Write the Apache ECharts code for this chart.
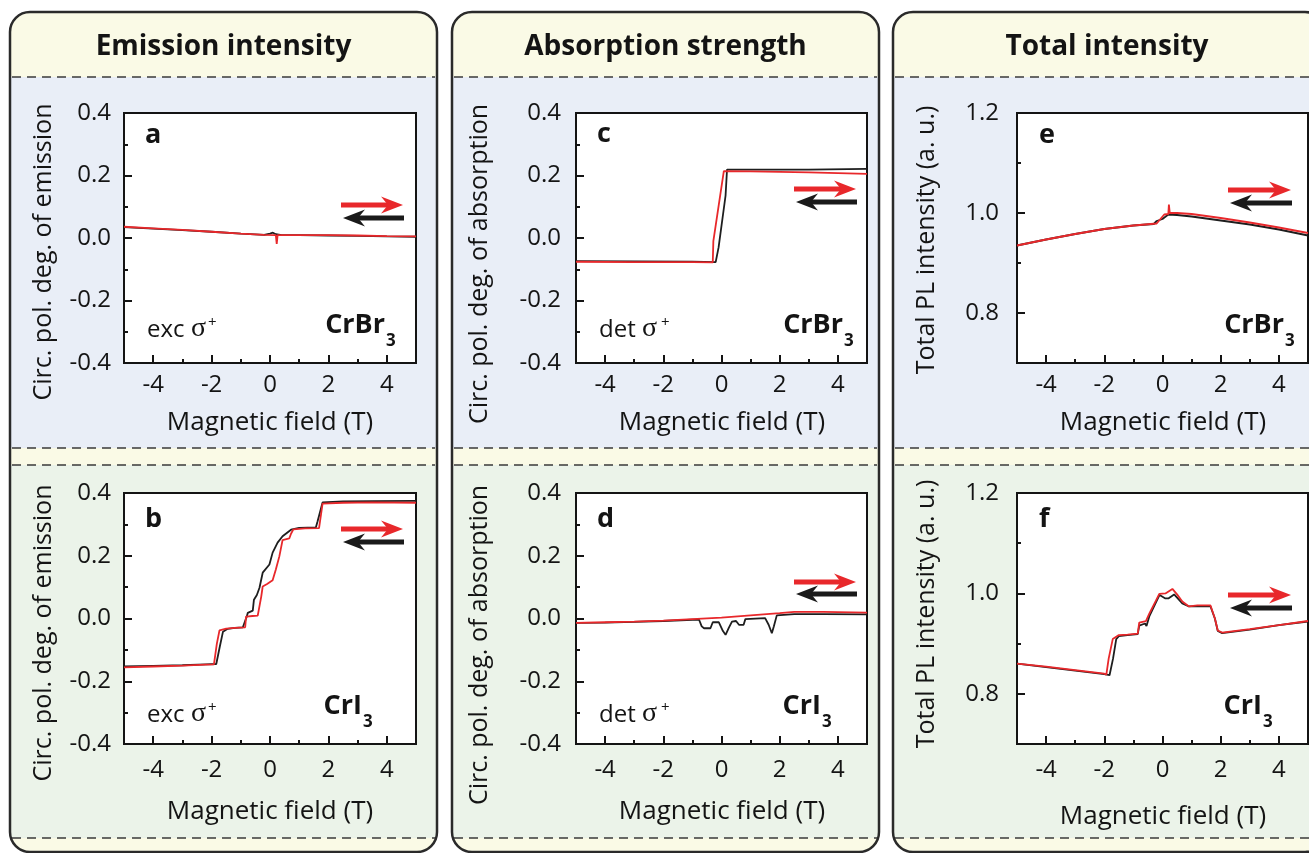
<!DOCTYPE html>
<html><head><meta charset="utf-8">
<script src="https://cdn.jsdelivr.net/npm/echarts@6/dist/echarts.min.js"></script>
<style>html,body{margin:0;padding:0;background:#fff;overflow:hidden}#c{width:1309px;height:853px}</style>
</head><body><div id="c"></div>
<script>
// ---- tick values / labels ----
const xMajor = [-4, -2, 0, 2, 4];
const xMinor = [-3, -1, 1, 3];
const polMajor = [-0.4, -0.2, 0, 0.2, 0.4];
const polMinor = [-0.3, -0.1, 0.1, 0.3];
const intMajor = [0.8, 1.0, 1.2];
const intMinor = [0.9, 1.1];
const columnTitles = ['Emission intensity', 'Absorption strength', 'Total intensity'];
const yTitles = ['Circ. pol. deg. of emission', 'Circ. pol. deg. of absorption', 'Total PL intensity (a. u.)'];
const xTitle = 'Magnetic field (T)';
const panelLetters = ['a', 'b', 'c', 'd', 'e', 'f'];
const materials = ['CrBr', 'CrI'];
const conditions = ['exc', 'det'];

// ---- data: [field (T), value]; black = sweep down, red = sweep up ----
const aBlack = [[-5,0.035],[-4,0.030],[-3,0.025],[-2,0.020],[-1,0.014],[-0.2,0.010],[0,0.014],[0.1,0.017],[0.2,0.012],[0.4,0.009],[1,0.009],[2,0.008],[3,0.007],[4,0.005],[5,0.004]];
const aRed = [[-5,0.036],[-4,0.031],[-3,0.026],[-2,0.020],[-1,0.014],[-0.2,0.010],[0.2,0.009],[0.23,-0.019],[0.26,0.009],[1,0.009],[2,0.009],[3,0.008],[4,0.006],[5,0.005]];

const bBlack = [[-5,-0.153],[-4,-0.151],[-3,-0.149],[-2.2,-0.146],[-1.84,-0.145],[-1.72,-0.09],[-1.61,-0.042],[-1.45,-0.033],[-1.2,-0.030],[-0.93,-0.028],[-0.89,-0.030],[-0.8,0.005],[-0.76,0.018],[-0.59,0.025],[-0.55,0.060],[-0.45,0.075],[-0.36,0.098],[-0.25,0.146],[-0.02,0.172],[0.09,0.210],[0.26,0.242],[0.43,0.262],[0.72,0.283],[1.0,0.289],[1.57,0.290],[1.63,0.310],[1.8,0.370],[2.5,0.373],[3.5,0.374],[5,0.375]];
const bRed = [[-5,-0.156],[-4,-0.153],[-3,-0.150],[-2.2,-0.147],[-1.92,-0.146],[-1.82,-0.08],[-1.73,-0.038],[-1.5,-0.032],[-1.2,-0.030],[-0.85,-0.028],[-0.82,0.006],[-0.6,0.008],[-0.42,0.009],[-0.3,0.070],[-0.25,0.102],[-0.1,0.110],[0.09,0.122],[0.2,0.156],[0.32,0.198],[0.43,0.250],[0.66,0.255],[0.72,0.270],[0.8,0.284],[1.2,0.287],[1.68,0.288],[1.8,0.366],[2.5,0.369],[3.5,0.370],[5,0.369]];

const cBlack = [[-5,-0.074],[-3,-0.075],[-1,-0.076],[-0.2,-0.077],[-0.1,-0.030],[0.14,0.136],[0.19,0.219],[1,0.219],[3,0.219],[5,0.221]];
const cRed = [[-5,-0.076],[-3,-0.077],[-1,-0.077],[-0.3,-0.078],[-0.28,-0.010],[0.08,0.214],[1,0.213],[3,0.210],[5,0.205]];

const dBlack = [[-5,-0.014],[-4,-0.013],[-3,-0.011],[-2,-0.008],[-1,-0.004],[-0.77,-0.004],[-0.68,-0.025],[-0.6,-0.031],[-0.38,-0.031],[-0.3,-0.012],[-0.09,-0.012],[0.05,-0.040],[0.14,-0.052],[0.25,-0.030],[0.36,-0.010],[0.5,-0.008],[0.6,-0.020],[0.76,-0.020],[0.82,-0.002],[1.5,0.001],[1.62,-0.020],[1.73,-0.047],[1.8,-0.025],[1.9,0.010],[2.5,0.014],[3.5,0.014],[5,0.013]];
const dRed = [[-5,-0.014],[-4,-0.012],[-3,-0.010],[-2,-0.007],[-1,-0.002],[0,0.003],[1,0.010],[2,0.017],[2.5,0.021],[3.5,0.021],[5,0.019]];

const eBlack = [[-5,0.935],[-4,0.947],[-3,0.958],[-2,0.968],[-1,0.975],[-0.3,0.978],[-0.2,0.984],[0,0.988],[0.2,0.997],[0.5,0.996],[1,0.993],[2,0.985],[3,0.977],[4,0.967],[4.5,0.961],[5,0.955]];
const eRed = [[-5,0.935],[-4,0.947],[-3,0.958],[-2,0.968],[-1,0.975],[-0.2,0.979],[0.06,0.997],[0.2,0.998],[0.22,1.017],[0.25,1.000],[0.5,1.000],[1,0.998],[2,0.990],[3,0.981],[4,0.971],[5,0.960]];

const fBlack = [[-5,0.860],[-4,0.853],[-3,0.846],[-2,0.839],[-1.82,0.837],[-1.7,0.870],[-1.59,0.909],[-1.5,0.915],[-1.2,0.917],[-0.85,0.919],[-0.8,0.936],[-0.6,0.940],[-0.55,0.935],[-0.45,0.955],[-0.2,0.985],[-0.1,0.997],[0.1,0.990],[0.2,0.990],[0.4,0.998],[0.68,0.980],[0.91,0.974],[1.65,0.974],[1.8,0.950],[1.9,0.925],[2.05,0.921],[3,0.928],[4,0.937],[5,0.944]];
const fRed = [[-5,0.860],[-4,0.854],[-3,0.847],[-2,0.840],[-1.93,0.838],[-1.85,0.870],[-1.71,0.909],[-1.5,0.917],[-1.2,0.918],[-0.85,0.920],[-0.8,0.942],[-0.57,0.945],[-0.45,0.960],[-0.23,0.985],[-0.11,0.999],[0.1,1.000],[0.34,1.009],[0.5,0.998],[0.68,0.984],[0.91,0.974],[1.2,0.976],[1.65,0.976],[1.8,0.950],[1.9,0.926],[2.05,0.922],[3,0.929],[4,0.937],[5,0.945]];

const panelData = [[aBlack,aRed],[bBlack,bRed],[cBlack,cRed],[dBlack,dRed],[eBlack,eRed],[fBlack,fRed]];

// ---- layout ----
const FONT = '"Open Sans", Lato, sans-serif';
const INK = '#141414';
const RED = '#e8282b';
const grids = [
  {left:124, top:113, width:292, height:250},
  {left:124, top:493, width:292, height:251},
  {left:576, top:113, width:291, height:250},
  {left:576, top:493, width:291, height:251},
  {left:1017, top:113, width:291, height:250},
  {left:1017, top:493, width:291, height:251}
];
const yLabelMargin = [13, 13, 15, 15, 18, 18];
const xLabelMargin = [10, 14, 10, 14, 10, 14];

const option = {animation:false, grid:[], xAxis:[], yAxis:[], series:[], graphic:{elements:[]}};
const tickStyle = {color: INK, width: 2};

grids.forEach((g, i) => {
  const col = Math.floor(i / 2);
  option.grid.push(Object.assign({show:true, backgroundColor:'#fff', borderColor:INK, borderWidth:2, containLabel:false}, g));
  option.xAxis.push({type:'value', gridIndex:i, position:'bottom', min:-5, max:5,
    axisLine:{show:false, onZero:false}, splitLine:{show:false},
    axisTick:{show:true, inside:true, length:8, customValues:xMajor, lineStyle:tickStyle},
    axisLabel:{customValues:xMajor, margin:xLabelMargin[i], fontSize:24, fontFamily:FONT, color:INK, formatter:v=>String(v)}});
  option.xAxis.push({type:'value', gridIndex:i, position:'bottom', offset:0, min:-5, max:5,
    axisLine:{show:false, onZero:false}, splitLine:{show:false}, axisLabel:{show:false},
    axisTick:{show:true, inside:true, length:4, customValues:xMinor, lineStyle:tickStyle}});
  const isInt = col === 2;
  const yMaj = isInt ? intMajor : polMajor;
  const yMin = isInt ? intMinor : polMinor;
  option.yAxis.push({type:'value', gridIndex:i, position:'left', min:isInt?0.7:-0.4, max:isInt?1.2:0.4,
    axisLine:{show:false, onZero:false}, splitLine:{show:false},
    axisTick:{show:true, inside:true, length:8, customValues:yMaj, lineStyle:tickStyle},
    axisLabel:{customValues:yMaj, margin:yLabelMargin[i], fontSize:24, fontFamily:FONT, color:INK, formatter:v=>v.toFixed(1)}});
  option.yAxis.push({type:'value', gridIndex:i, position:'left', offset:0, min:isInt?0.7:-0.4, max:isInt?1.2:0.4,
    axisLine:{show:false, onZero:false}, splitLine:{show:false}, axisLabel:{show:false},
    axisTick:{show:true, inside:true, length:4, customValues:yMin, lineStyle:tickStyle}});
  const [blk, red] = panelData[i];
  option.series.push({type:'line', xAxisIndex:2*i, yAxisIndex:2*i, data:blk, symbol:'none', silent:true,
    lineStyle:{color:'#1e1e1e', width:1.8}, z:3});
  option.series.push({type:'line', xAxisIndex:2*i, yAxisIndex:2*i, data:red, symbol:'none', silent:true,
    lineStyle:{color:RED, width:1.8}, z:4});
});

const G = option.graphic.elements;
function txt(t, x, y, size, opts) {
  opts = opts || {};
  G.push({type:'text', x:x, y:y, rotation:opts.rot||0, z:50,
    style:{text:t, x:0, y:0, fill:INK, fontSize:size, fontWeight:opts.bold?'bold':'normal',
      fontFamily:opts.family||FONT, textAlign:opts.align||'center', align:opts.align||'center',
      textVerticalAlign:'middle', verticalAlign:'middle'}});
}
const cols = [[10,437],[452,879],[893,1325]];
const bandY = [77, 448, 465, 838];
cols.forEach(([x0, x1], c) => {
  G.push({type:'rect', z:-10, shape:{x:x0, y:12, width:x1-x0, height:840, r:20}, style:{fill:'#fafae6'}});
  G.push({type:'rect', z:-9, shape:{x:x0+1, y:bandY[0], width:x1-x0-2, height:bandY[1]-bandY[0]}, style:{fill:'#e9eef7'}});
  G.push({type:'rect', z:-9, shape:{x:x0+1, y:bandY[2], width:x1-x0-2, height:bandY[3]-bandY[2]}, style:{fill:'#ebf3e9'}});
  bandY.forEach(y => G.push({type:'line', z:-8, shape:{x1:x0+2, y1:y, x2:x1-2, y2:y},
    style:{stroke:'#3a3a3a', lineWidth:1.3, lineDash:[9,6]}}));
  G.push({type:'rect', z:-7, shape:{x:x0, y:12, width:x1-x0, height:840, r:20}, style:{fill:null, stroke:'#2a2a2a', lineWidth:2.5}});
  txt(columnTitles[c], (x0 + Math.min(x1,1321))/2, 47, 28, {bold:true});
});

const yTitlePos = [[44,252],[44,633],[480,264],[480,645],[927,240],[927,614]];
const xTitlePos = [[270,423],[270,812],[722,423],[722,812],[1163,423],[1163,817]];
const letterPos = [[145,135],[145,519],[597,134],[597,519],[1039,135],[1039,519]];
const matAnchor = [[385,325],[362,706],[843,325],[821,706],[1284,325],[1262,706]];
const condPos = [[147,191,208,330],[147,191,208,715],[599,642,661,330],[599,642,661,715]];
const arrowPos = [[341,403,205,218],[341,403,529,542],[794,856,189,202],[794,856,582,594],[1228,1291,190,203],[1228,1291,595,608]];

function arrow(xa, xb, y, color, right) {
  const len = 22, half = 8.5, notch = 15, th = 5;
  if (right) {
    G.push({type:'rect', z:40, shape:{x:xa, y:y-th/2, width:(xb-notch+2)-xa, height:th}, style:{fill:color}});
    G.push({type:'polygon', z:40, shape:{points:[[xb,y],[xb-len,y-half],[xb-notch,y],[xb-len,y+half]]}, style:{fill:color}});
  } else {
    G.push({type:'rect', z:40, shape:{x:xa+notch-2, y:y-th/2, width:xb-(xa+notch-2), height:th}, style:{fill:color}});
    G.push({type:'polygon', z:40, shape:{points:[[xa,y],[xa+len,y-half],[xa+notch,y],[xa+len,y+half]]}, style:{fill:color}});
  }
}

grids.forEach((g, i) => {
  const col = Math.floor(i / 2), row = i % 2;
  txt(yTitles[col], yTitlePos[i][0], yTitlePos[i][1], 25, {rot:Math.PI/2});
  txt(xTitle, xTitlePos[i][0], xTitlePos[i][1], 26);
  txt(panelLetters[i], letterPos[i][0], letterPos[i][1], 27, {bold:true, align:'left'});
  txt(materials[row], matAnchor[i][0], matAnchor[i][1], 27, {bold:true, align:'right'});
  txt('3', matAnchor[i][0] + 1, matAnchor[i][1] + 16, 17, {bold:true, align:'left'});
  if (col < 2) {
    const p = condPos[i];
    txt(conditions[col], p[0], p[3], 24, {align:'left'});
    txt('σ', p[1], p[3] - 1, 28, {align:'left', family:'"Liberation Serif", serif'});
    txt('+', p[2], p[3] - 7, 15, {align:'left'});
  }
  const a = arrowPos[i];
  arrow(a[0], a[1], a[2], RED, true);
  arrow(a[0] + 2, a[1] + 1, a[3], '#1a1a1a', false);
});

const chart = echarts.init(document.getElementById('c'), null, {renderer:'canvas'});
chart.setOption(option);
</script></body></html>
